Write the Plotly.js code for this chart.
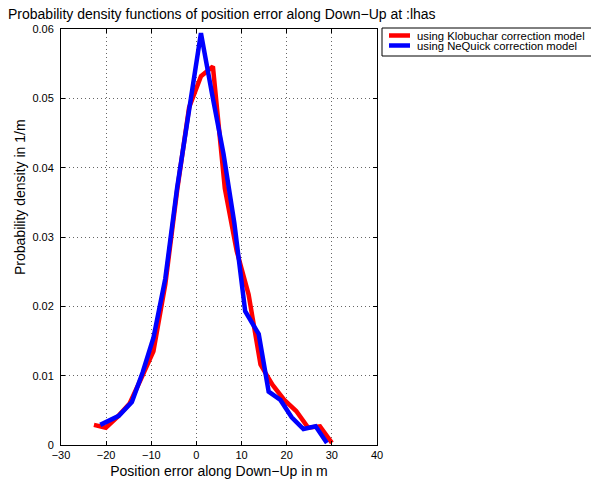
<!DOCTYPE html>
<html>
<head>
<meta charset="utf-8">
<script src="https://cdn.plot.ly/plotly-3.0.1.min.js"></script>
<style>html,body{margin:0;padding:0;background:#fff;}#chart{width:591px;height:484px;}</style>
</head>
<body>
<div id="chart"></div>
<script>
// Series names
var seriesNames = ['using Klobuchar correction model', 'using NeQuick correction model'];
// Klobuchar series (position error in m, density in 1/m)
var klobX = [-22.7, -20.07, -17.43, -14.8, -12.16, -9.53, -6.89, -4.26, -1.62, 1.01, 3.65, 6.29, 8.92, 11.56, 14.19, 16.83, 19.46, 22.1, 24.73, 27.37, 30.0];
var klobY = [0.0029, 0.0025, 0.0041, 0.0060, 0.0097, 0.0135, 0.0232, 0.0368, 0.0487, 0.0532, 0.0546, 0.0370, 0.0280, 0.0217, 0.0116, 0.0087, 0.0065, 0.0049, 0.0025, 0.0027, 0.0003];
// NeQuick series
var neqX = [-21.3, -17.2, -14.3, -11.9, -9.5, -6.9, -4.3, -1.6, 1.0, 3.5, 6.0, 8.4, 10.8, 13.8, 16.0, 18.6, 21.1, 23.7, 26.4, 28.9];
var neqY = [0.0029, 0.0042, 0.0062, 0.0105, 0.0155, 0.0240, 0.0370, 0.0485, 0.0594, 0.0505, 0.0420, 0.0320, 0.0193, 0.0160, 0.0077, 0.0065, 0.0040, 0.0023, 0.0027, 0.0003];
// Tick values
var xTicks = [-30, -20, -10, 0, 10, 20, 30, 40];
var yTicks = [0, 0.01, 0.02, 0.03, 0.04, 0.05, 0.06];
var yTickText = ['0', '0.01', '0.02', '0.03', '0.04', '0.05', '0.06'];
var colors = ['#ff0000', '#0000ff'];

var FONT = 'Liberation Sans, Arial, Helvetica, sans-serif';
var W = 591, H = 484;
var L = 61, R = 214, T = 29, B = 39;
var pw = W - L - R, ph = H - T - B;
function px2x(px) { return (px - L) / pw; }
function py2y(py) { return (H - B - py) / ph; }

var traces = [
  {x: klobX, y: klobY, type: 'scatter', mode: 'lines', name: seriesNames[0],
   line: {color: colors[0], width: 4.5}, showlegend: false},
  {x: neqX, y: neqY, type: 'scatter', mode: 'lines', name: seriesNames[1],
   line: {color: colors[1], width: 4.5}, showlegend: false}
];

var axisCommon = {
  showline: true, linecolor: '#000', linewidth: 1, mirror: 'ticks',
  ticks: 'inside', ticklen: 4, tickcolor: '#000',
  showgrid: true, gridcolor: '#666', griddash: '1px,3px', gridwidth: 1,
  zeroline: false, tickfont: {family: FONT, size: 11, color: '#000'}
};

var xaxis = Object.assign({}, axisCommon, {
  range: [-30, 40], tickvals: xTicks,
  title: {text: 'Position error along Down\u2212Up in m', font: {family: FONT, size: 14, color: '#000'}, standoff: 5}
});
var yaxis = Object.assign({}, axisCommon, {
  range: [0, 0.06], tickvals: yTicks, ticktext: yTickText, ticklabelstandoff: 4
});

// Legend drawn as shapes + annotations
var shapes = [
  {type: 'rect', xref: 'paper', yref: 'paper', x0: px2x(382), x1: px2x(596), y0: py2y(56), y1: py2y(28),
   line: {color: '#000', width: 1}, fillcolor: '#fff', layer: 'above'},
  {type: 'line', xref: 'paper', yref: 'paper', x0: px2x(389), x1: px2x(410), y0: py2y(35.5), y1: py2y(35.5),
   line: {color: colors[0], width: 4.5}},
  {type: 'line', xref: 'paper', yref: 'paper', x0: px2x(389), x1: px2x(410), y0: py2y(45.5), y1: py2y(45.5),
   line: {color: colors[1], width: 4.5}}
];
var annotations = [
  {xref: 'paper', yref: 'paper', x: px2x(415), y: py2y(35.5), xanchor: 'left', yanchor: 'middle',
   text: seriesNames[0], showarrow: false, font: {family: FONT, size: 11.3, color: '#000'}},
  {xref: 'paper', yref: 'paper', x: px2x(415), y: py2y(45.5), xanchor: 'left', yanchor: 'middle',
   text: seriesNames[1], showarrow: false, font: {family: FONT, size: 11.3, color: '#000'}},
  {xref: 'paper', yref: 'paper', x: px2x(20), y: py2y(197), xanchor: 'center', yanchor: 'middle',
   text: 'Probability density in 1/m', textangle: -90, showarrow: false, font: {family: FONT, size: 14, color: '#000'}}
];

var layout = {
  width: W, height: H,
  margin: {l: L, r: R, t: T, b: B, pad: 0},
  paper_bgcolor: '#fff', plot_bgcolor: '#fff',
  title: {text: 'Probability density functions of position error along Down\u2212Up at :lhas',
          font: {family: FONT, size: 14, color: '#000'},
          xref: 'container', yref: 'container', x: 8 / W, xanchor: 'left', y: 1 - 14 / H, yanchor: 'middle'},
  xaxis: xaxis, yaxis: yaxis,
  shapes: shapes, annotations: annotations,
  showlegend: false
};

Plotly.newPlot('chart', traces, layout, {displayModeBar: false, staticPlot: true});
</script>
</body>
</html>
